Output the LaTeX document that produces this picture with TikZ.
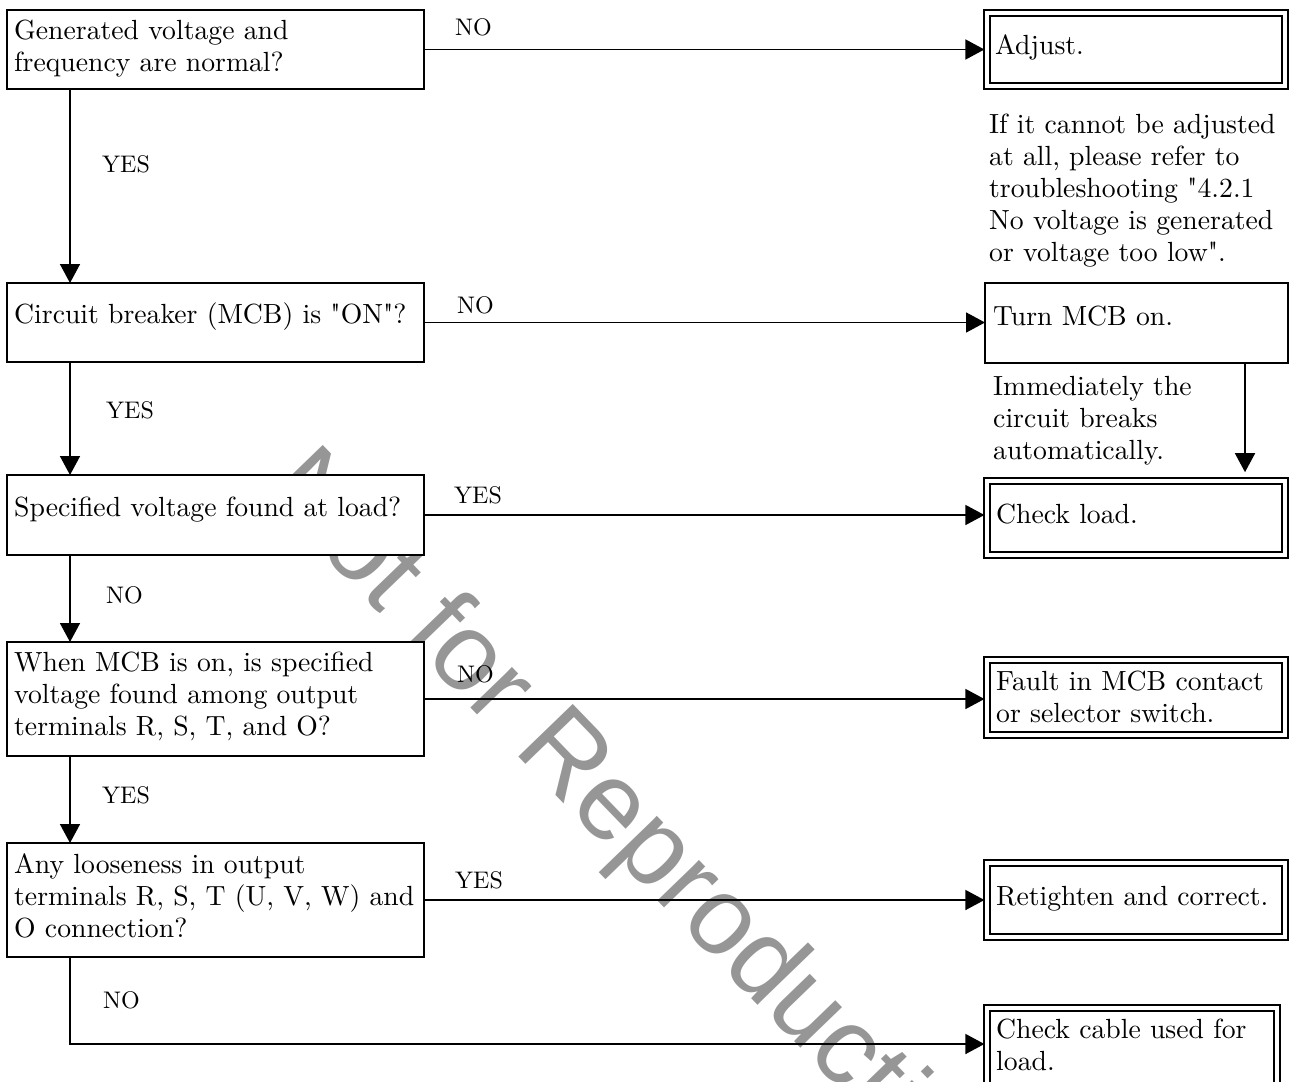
\documentclass[tikz,border=0pt]{standalone}
\usepackage{fontspec}
\usetikzlibrary{arrows.meta}
\newfontfamily\wmfont{Liberation Sans}
\font\mainfnt="[lmroman10-regular]" at 27.7pt
\font\labfnt="[lmroman10-regular]" at 24pt
\definecolor{wmgray}{RGB}{150,150,150}
\newcommand\mlines[1]{\vtop{\baselineskip=32pt\lineskiplimit=-1000pt\lineskip=0pt\halign{##\hfil\cr#1\crcr}}}
\tikzset{
  qbox/.style={draw, line width=1.8pt, fill=white, rectangle, inner sep=0pt, outer sep=0pt},
  rbox/.style={draw, line width=2pt, double, double distance=4pt, fill=white, rectangle, inner sep=0pt, outer sep=0pt},
  txt/.style={inner sep=0pt, anchor=base west, font=\mainfnt},
  lab/.style={inner sep=0pt, anchor=base west, font=\labfnt},
  conn/.style={line width=1.6pt, -{Triangle[length=19pt,width=20pt]}},
}
\begin{document}
\begin{tikzpicture}[x=1pt,y=-1pt]
\useasboundingbox (0,0) rectangle (1289,1081);
\clip (0,0) rectangle (1289,1081);
\fill[white] (0,0) rectangle (1289,1081);
% watermark
\node[rotate=-46, anchor=base west, inner sep=0pt, text=wmgray, font=\wmfont\fontsize{110pt}{110pt}\selectfont] (wm) at (262,491) {Not for Reproduction};
% question boxes
\node[qbox, minimum width=417pt, minimum height=79pt] (q1) at (215.5,49.5) {};
\node[qbox, minimum width=417pt, minimum height=79pt] (q2) at (215.5,322.5) {};
\node[qbox, minimum width=417pt, minimum height=80pt] (q3) at (215.5,515) {};
\node[qbox, minimum width=417pt, minimum height=114pt] (q4) at (215.5,699) {};
\node[qbox, minimum width=417pt, minimum height=114pt] (q5) at (215.5,900) {};
% result boxes
\node[rbox, minimum width=297.9pt, minimum height=72.5pt] (r1) at (1136.35,49.25) {};
\node[qbox, minimum width=303pt, minimum height=79.7pt] (r2) at (1136.5,323.15) {};
\node[rbox, minimum width=297.9pt, minimum height=73.3pt] (r3) at (1136.35,517.85) {};
\node[rbox, minimum width=297.9pt, minimum height=74.8pt] (r4) at (1136.35,697.1) {};
\node[rbox, minimum width=297.9pt, minimum height=74.2pt] (r5) at (1136.35,899.9) {};
\node[rbox, minimum width=289.6pt, minimum height=92.2pt] (r6) at (1132.2,1053.9) {};
% texts
\node[txt] (q1t) at (14,40) {\mlines{Generated voltage and\cr frequency are normal?}};
\node[txt] (q2t) at (14,323) {Circuit breaker (MCB) is "ON"?};
\node[txt] (q3t) at (14,516) {Specified voltage found at load?};
\node[txt] (q4t) at (14,671.7) {\mlines{When MCB is on, is specified\cr voltage found among output\cr terminals R, S, T, and O?}};
\node[txt] (q5t) at (14,873) {\mlines{Any looseness in output\cr terminals R, S, T (U, V, W) and\cr O connection?}};
\node[txt] (r1t) at (995,55) {Adjust.};
\node[txt] (n1) at (989,133) {\mlines{If it cannot be adjusted\cr at all, please refer to\cr troubleshooting "4.2.1\cr No voltage is generated\cr or voltage too low".}};
\node[txt] (r2t) at (993,325) {Turn MCB on.};
\node[txt] (n2) at (993,395) {\mlines{Immediately the\cr circuit breaks\cr automatically.}};
\node[txt] (r3t) at (996,523) {Check load.};
\node[txt] (r4t) at (996,690.7) {\mlines{Fault in MCB contact\cr or selector switch.}};
\node[txt] (r5t) at (996,905) {Retighten and correct.};
\node[txt] (r6t) at (996,1038) {\mlines{Check cable used for\cr load.}};
% labels
\node[lab] (l1) at (455,36) {NO};
\node[lab] (l2) at (102,172) {YES};
\node[lab] (l3) at (457,313) {NO};
\node[lab] (l4) at (106,418) {YES};
\node[lab] (l5) at (454,503) {YES};
\node[lab] (l6) at (106,603) {NO};
\node[lab] (l7) at (457,682) {NO};
\node[lab] (l8) at (102,803) {YES};
\node[lab] (l9) at (455,888) {YES};
\node[lab] (l10) at (103,1008) {NO};
% connectors
\draw[conn, shorten >=3pt] (q1.east) -- (q1.east -| r1.west);
\draw[conn] (q2.east) -- (q2.east -| r2.west);
\draw[conn, shorten >=3pt] (q3.east) -- (q3.east -| r3.west);
\draw[conn, shorten >=3pt] (q4.east) -- (q4.east -| r4.west);
\draw[conn, shorten >=3pt] (q5.east) -- (q5.east -| r5.west);
\draw[conn] ([xshift=63pt]q1.south west) -- ([xshift=63pt]q2.north west);
\draw[conn] ([xshift=63pt]q2.south west) -- ([xshift=63pt]q3.north west);
\draw[conn] ([xshift=63pt]q3.south west) -- ([xshift=63pt]q4.north west);
\draw[conn] ([xshift=63pt]q4.south west) -- ([xshift=63pt]q5.north west);
\coordinate (tm) at ([xshift=260pt]r2.south west);
\draw[conn, shorten >=9pt] (tm) -- (tm |- r3.north);
\coordinate (bend) at ([xshift=63pt,yshift=-87pt]q5.south west);
\draw[conn, shorten >=3pt] ([xshift=63pt]q5.south west) -- (bend) -- (bend -| r6.west);
\end{tikzpicture}
\end{document}
